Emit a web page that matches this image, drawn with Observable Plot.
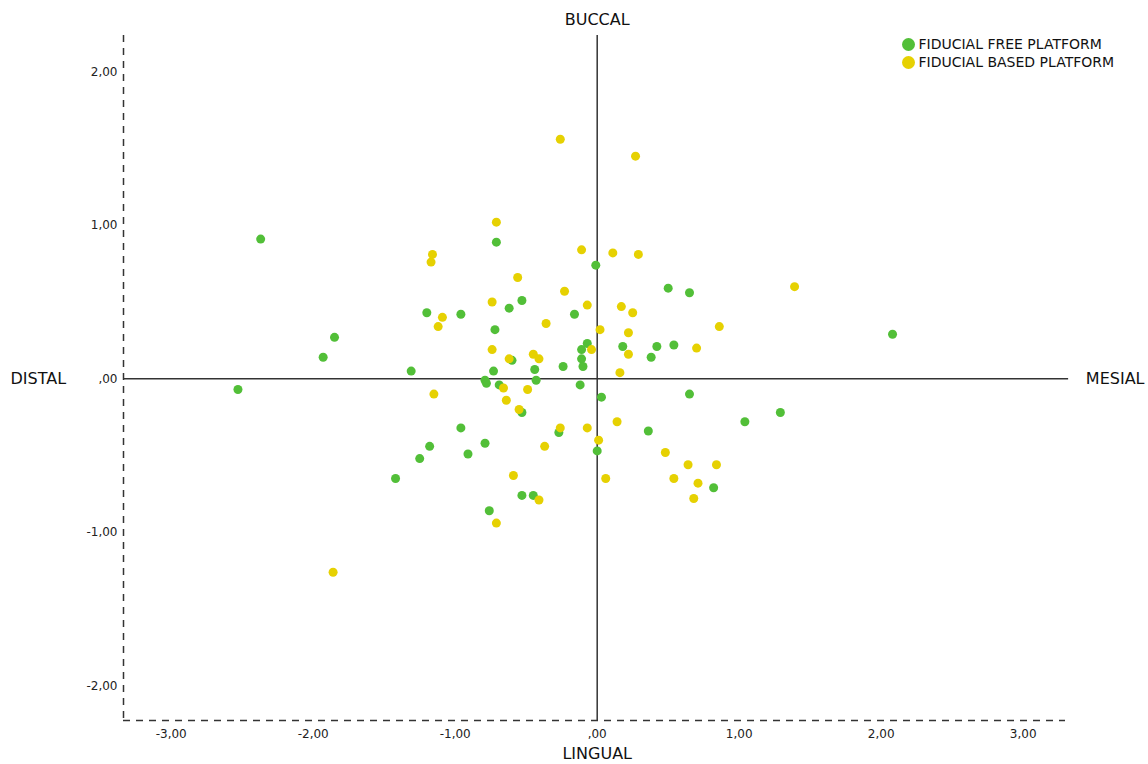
<!DOCTYPE html>
<html>
<head>
<meta charset="utf-8">
<script src="https://cdn.jsdelivr.net/npm/d3@7"></script>
<script src="https://cdn.jsdelivr.net/npm/@observablehq/plot@0.6"></script>
<style>
  html, body { margin: 0; padding: 0; background: #fff; }
  #chart { width: 1148px; height: 764px; }
</style>
</head>
<body>
<div id="chart"></div>
<script>
// Series names
const seriesNames = ["FIDUCIAL FREE PLATFORM", "FIDUCIAL BASED PLATFORM"];
const seriesColors = ["#52bf38", "#e6d102"];

// Fiducial free platform: [mesial/distal, buccal/lingual]
const freeX = [-2.53, -2.37, -1.93, -1.85, -1.42, -1.31, -1.25, -1.20, -1.18, -0.96, -0.96, -0.91, -0.79, -0.79, -0.78, -0.76, -0.73, -0.72, -0.71, -0.69, -0.62, -0.60, -0.53, -0.53, -0.53, -0.45, -0.44, -0.43, -0.27, -0.24, -0.16, -0.12, -0.11, -0.11, -0.10, -0.07, -0.01, 0.00, 0.03, 0.18, 0.36, 0.38, 0.42, 0.50, 0.54, 0.65, 0.65, 0.82, 1.04, 1.29, 2.08];
const freeY = [-0.07, 0.91, 0.14, 0.27, -0.65, 0.05, -0.52, 0.43, -0.44, 0.42, -0.32, -0.49, -0.42, -0.01, -0.03, -0.86, 0.05, 0.32, 0.89, -0.04, 0.46, 0.12, 0.51, -0.22, -0.76, -0.76, 0.06, -0.01, -0.35, 0.08, 0.42, -0.04, 0.19, 0.13, 0.08, 0.23, 0.74, -0.47, -0.12, 0.21, -0.34, 0.14, 0.21, 0.59, 0.22, 0.56, -0.10, -0.71, -0.28, -0.22, 0.29];

// Fiducial based platform
const basedX = [-1.86, -1.17, -1.16, -1.15, -1.12, -1.09, -0.74, -0.74, -0.71, -0.71, -0.66, -0.64, -0.62, -0.59, -0.56, -0.55, -0.49, -0.45, -0.41, -0.41, -0.37, -0.36, -0.26, -0.26, -0.23, -0.11, -0.07, -0.07, -0.04, 0.01, 0.02, 0.06, 0.11, 0.14, 0.16, 0.17, 0.22, 0.22, 0.25, 0.27, 0.29, 0.48, 0.54, 0.64, 0.68, 0.70, 0.71, 0.84, 0.86, 1.39];
const basedY = [-1.26, 0.76, 0.81, -0.10, 0.34, 0.40, 0.50, 0.19, 1.02, -0.94, -0.06, -0.14, 0.13, -0.63, 0.66, -0.20, -0.07, 0.16, 0.13, -0.79, -0.44, 0.36, 1.56, -0.32, 0.57, 0.84, 0.48, -0.32, 0.19, -0.40, 0.32, -0.65, 0.82, -0.28, 0.04, 0.47, 0.30, 0.16, 0.43, 1.45, 0.81, -0.48, -0.65, -0.56, -0.78, 0.20, -0.68, -0.56, 0.34, 0.60];

// Axis ticks and direction labels
const xTicks = [-3, -2, -1, 0, 1, 2, 3];
const yTicks = [-2, -1, 0, 1, 2];
const directionLabels = { top: "BUCCAL", bottom: "LINGUAL", left: "DISTAL", right: "MESIAL" };

// Build table
const points = [
  ...freeX.map((x, i) => ({x, y: freeY[i], group: seriesNames[0]})),
  ...basedX.map((x, i) => ({x, y: basedY[i], group: seriesNames[1]}))
];

const xDomain = [-3.336, 3.298];
const yDomain = [-2.226, 2.236];
const fmt = d => {
  const s = Math.abs(d).toFixed(2).replace(".", ",").replace(/^0,/, ",");
  return (d < 0 ? "-" : "") + s;
};
const font = "DejaVu Sans, sans-serif";
const ink = "#333";

const chart = Plot.plot({
  width: 1148,
  height: 764,
  marginLeft: 123,
  marginRight: 83,
  marginTop: 35,
  marginBottom: 44,
  style: { fontFamily: font, fontSize: "12px", color: "#222", background: "#fff" },
  x: { domain: xDomain, axis: null },
  y: { domain: yDomain, axis: null },
  color: { domain: seriesNames, range: seriesColors },
  marks: [
    Plot.axisX(xTicks, { tickSize: 0, tickPadding: 9, tickFormat: fmt, fontSize: 12, label: null }),
    Plot.axisY(yTicks, { tickSize: 0, tickPadding: 6, tickFormat: fmt, fontSize: 12, label: null }),
    // dashed frame (left and bottom)
    Plot.ruleX([xDomain[0]], { stroke: ink, strokeWidth: 1.5, strokeDasharray: "7,6" }),
    Plot.ruleY([yDomain[0]], { stroke: ink, strokeWidth: 1.5, strokeDasharray: "7,6" }),
    // quadrant lines
    Plot.ruleY([0], { x1: xDomain[0], x2: 3.32, stroke: ink, strokeWidth: 1.5, clip: false }),
    Plot.ruleX([0], { y1: yDomain[1], y2: yDomain[0], stroke: ink, strokeWidth: 1.5 }),
    // points
    Plot.dot(points, { x: "x", y: "y", fill: "group", r: 4.5 }),
    // direction labels
    Plot.text([directionLabels.top], { x: 0, frameAnchor: "top", lineAnchor: "middle", dy: -16, fontSize: 16, fill: "#111" }),
    Plot.text([directionLabels.bottom], { x: 0, frameAnchor: "bottom", lineAnchor: "middle", dy: 33, fontSize: 16, fill: "#111" }),
    Plot.text([directionLabels.left], { y: 0, frameAnchor: "left", textAnchor: "start", dx: -113, fontSize: 16, fill: "#111" }),
    Plot.text([directionLabels.right], { y: 0, frameAnchor: "right", textAnchor: "end", dx: 79, fontSize: 16, fill: "#111" }),
    // legend
    Plot.dot([seriesNames[0]], { frameAnchor: "top-right", dx: -157, dy: 9, r: 6.5, fill: seriesColors[0] }),
    Plot.dot([seriesNames[1]], { frameAnchor: "top-right", dx: -157, dy: 27, r: 6.5, fill: seriesColors[1] }),
    Plot.text([seriesNames[0]], { frameAnchor: "top-right", lineAnchor: "middle", dx: -147, dy: 9, textAnchor: "start", fontSize: 14, fill: "#111" }),
    Plot.text([seriesNames[1]], { frameAnchor: "top-right", lineAnchor: "middle", dx: -147, dy: 27, textAnchor: "start", fontSize: 14, fill: "#111" })
  ]
});
document.getElementById("chart").appendChild(chart);
</script>
</body>
</html>
